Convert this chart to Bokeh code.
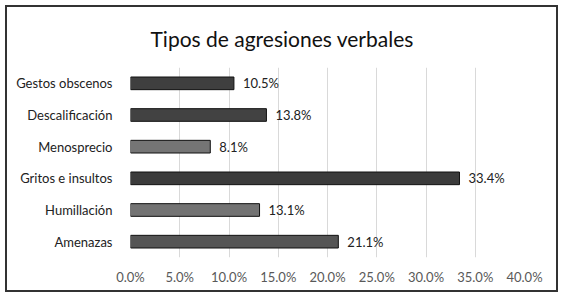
from bokeh.plotting import figure
from bokeh.models import ColumnDataSource, FactorRange, Range1d, FixedTicker, PrintfTickFormatter
from bokeh.core.properties import value
from bokeh.embed import file_html
from bokeh.resources import INLINE

title_text = "Tipos de agresiones verbales"
categories = ["Gestos obscenos", "Descalificación", "Menosprecio", "Gritos e insultos", "Humillación", "Amenazas"]
values = [10.5, 13.8, 8.1, 33.4, 13.1, 21.1]
bar_colors = ["#3f3f3f", "#424242", "#757575", "#3b3b3b", "#737373", "#555555"]
x_ticks = [0, 5, 10, 15, 20, 25, 30, 35, 40]

FONT = "Lato"
W, H = 549, 283
ML, MR, MT, MB = 123, 36, 60, 37

labels = [f"{v:.1f}%" for v in values]
src = ColumnDataSource(dict(cat=categories, val=values, color=bar_colors, lab=labels))

p = figure(
    width=W, height=H,
    y_range=FactorRange(*reversed(categories)),
    x_range=Range1d(0, 40),
    output_backend="svg", toolbar_location=None,
    min_border_left=ML, min_border_right=MR, min_border_top=MT, min_border_bottom=MB,
)
p.styles = {"border": "2px solid #333333", "margin-left": "5px", "margin-top": "5px",
            "box-sizing": "content-box"}
p.outline_line_color = None

p.title.text = title_text
p.title.align = "left"
p.title.offset = 20
p.title.text_font = FONT
p.title.text_font_size = "21px"
p.title.text_font_style = "normal"
p.title.text_color = "#111111"
p.title.vertical_align = "top"
p.title.standoff = 30

p.hbar(y="cat", right="val", left=0, height=0.4, source=src,
       fill_color="color", line_color="#111111", line_width=1)

p.text(x="val", y="cat", text="lab", source=src, x_offset=9,
       text_baseline="middle", text_align="left",
       text_font=value(FONT), text_font_size="13px", text_color="#222222")

p.xaxis.ticker = FixedTicker(ticks=x_ticks)
p.xaxis.formatter = PrintfTickFormatter(format="%.1f%%")
p.xaxis.axis_line_color = None
p.xaxis.major_tick_line_color = None
p.xaxis.minor_tick_line_color = None
p.xaxis.major_label_text_font = FONT
p.xaxis.major_label_text_font_size = "13px"
p.xaxis.major_label_text_color = "#595959"
p.xaxis.major_label_standoff = 5

p.yaxis.axis_line_color = None
p.yaxis.major_tick_line_color = None
p.yaxis.minor_tick_line_color = None
p.yaxis.major_label_text_font = FONT
p.yaxis.major_label_text_font_size = "13px"
p.yaxis.major_label_text_color = "#222222"
p.yaxis.major_label_standoff = 12

p.xgrid.grid_line_color = "#d9d9d9"
p.ygrid.grid_line_color = None

open("out.html", "w").write(file_html(p, INLINE))
